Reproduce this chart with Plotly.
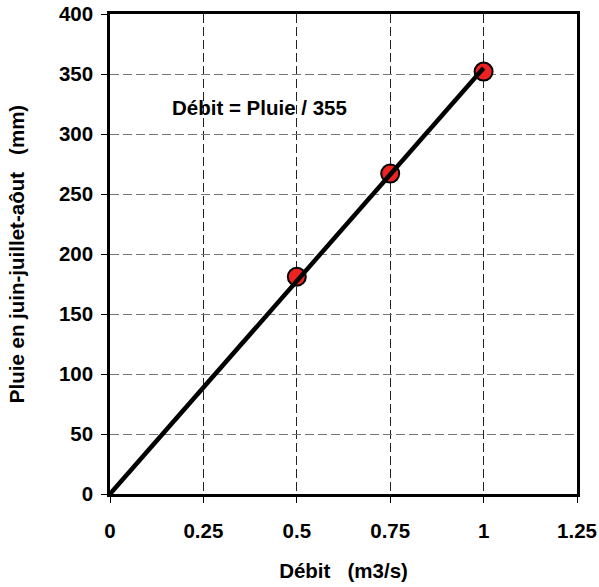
import plotly.graph_objects as go

debit_pts = [0.5, 0.75, 1.0]
pluie_pts = [181, 267, 352]
line_x = [0, 1.0]
line_y = [0, 355]
x_ticks = [0, 0.25, 0.5, 0.75, 1, 1.25]
x_ticklabels = ["0", "0.25", "0.5", "0.75", "1", "1.25"]
y_ticks = [0, 50, 100, 150, 200, 250, 300, 350, 400]

font = "Liberation Sans, Arial, sans-serif"
FS = 20.5

fig = go.Figure()
fig.add_trace(go.Scatter(
    x=debit_pts, y=pluie_pts, mode="markers",
    marker=dict(size=18, color="#ee2222", line=dict(color="black", width=2)),
    showlegend=False, cliponaxis=False))
fig.add_trace(go.Scatter(
    x=line_x, y=line_y, mode="lines",
    line=dict(color="black", width=4.5), showlegend=False))

fig.add_annotation(x=0.4, y=322, xref="x", yref="y", text="<b>Débit = Pluie / 355</b>",
                   showarrow=False, font=dict(family=font, size=FS, color="black"))

fig.update_layout(
    width=599, height=587,
    margin=dict(l=110, r=22, t=14, b=93),
    paper_bgcolor="white", plot_bgcolor="white",
    font=dict(family=font, color="black"),
)
fig.update_xaxes(
    range=[0, 1.25], tickvals=x_ticks, ticktext=["<b>%s</b>" % t for t in x_ticklabels],
    tickfont=dict(size=FS, family=font), ticks="outside", ticklen=6, tickcolor="black", tickwidth=1,
    ticklabelstandoff=11, automargin=False, ticklabeloverflow="allow",
    showline=True, linecolor="black", linewidth=2.5, mirror=True,
    showgrid=True, gridcolor="#222", griddash="9px,4px", gridwidth=1,
    zeroline=False,
    title=dict(text="<b>Débit   (m3/s)</b>", font=dict(size=FS, family=font), standoff=23),
)
fig.update_yaxes(
    range=[0, 400], tickvals=y_ticks, ticktext=["<b>%d</b>" % t for t in y_ticks],
    tickfont=dict(size=FS, family=font), ticks="outside", ticklen=6, tickcolor="black", tickwidth=1,
    ticklabelstandoff=4, automargin=False, ticklabeloverflow="allow",
    showline=True, linecolor="black", linewidth=2.5, mirror=True,
    showgrid=True, gridcolor="#777", griddash="9px,4px", gridwidth=1,
    zeroline=False,
    title=dict(text="<b>Pluie en juin-juillet-aôut   (mm)</b>", font=dict(size=FS, family=font), standoff=29),
)

# remove the browser's default 8px body margin so the figure fills the window exactly
fig.write_html("out.html", config={"displayModeBar": False},
               post_script="document.body.style.margin='0';")
